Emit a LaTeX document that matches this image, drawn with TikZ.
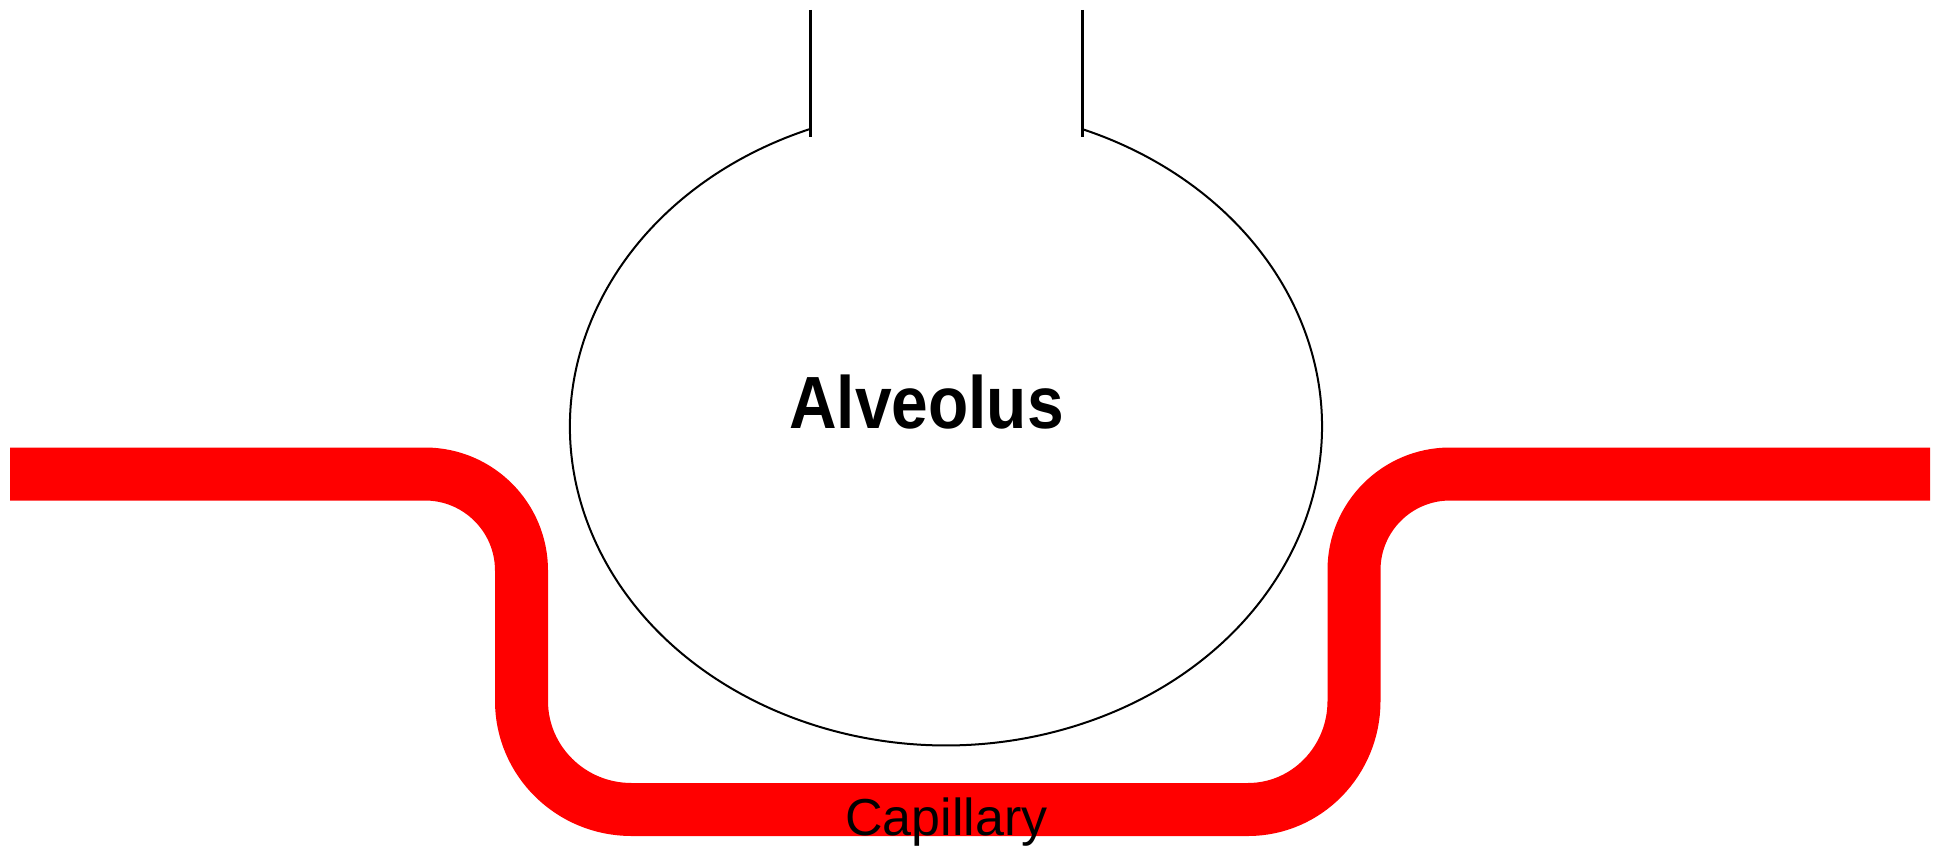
\documentclass[tikz,border=0pt]{standalone}
\usepackage{fontspec}
\setmainfont{Liberation Sans}
\usepackage{tikz}
\usetikzlibrary{calc}
\definecolor{bloodred}{HTML}{FF0000}

\begin{document}
\begin{tikzpicture}[
    x=1pt, y=1pt,
    vessel/.style={draw=bloodred, line width=53pt, line cap=butt, line join=round},
    sacwall/.style={draw=black, line width=2pt},
    airway/.style={draw=black, line width=3pt},
    every node/.style={inner sep=0pt, anchor=base}
]
\useasboundingbox (0,0) rectangle (1942,-848);
% alveolus sac, open at the top
\coordinate (sac) at (946,-426);
\draw[sacwall] (810,-129) arc[start angle=111.2, end angle=428.8, x radius=376, y radius=319];
\draw[airway] (810,-10) -- (810,-137);
\draw[airway] (1082,-10) -- (1082,-137);
\node (alv) at (926.5,-428) {\scalebox{0.89}[1]{\fontsize{74}{80}\selectfont\bfseries Alveolus}};
% capillary running under the sac
\draw[vessel] (10,-474) -- (425,-474)
    arc[start angle=90, end angle=0, radius=96.5] -- (521.5,-701)
    arc[start angle=180, end angle=270, x radius=110, y radius=108.5] -- (1248,-809.5)
    arc[start angle=270, end angle=360, x radius=106, y radius=108.5] -- (1354,-570)
    arc[start angle=180, end angle=90, radius=96] -- (1930,-474);
\node (cap) at (946.5,-835) {\fontsize{52}{60}\selectfont Capillary};
\end{tikzpicture}
\end{document}
